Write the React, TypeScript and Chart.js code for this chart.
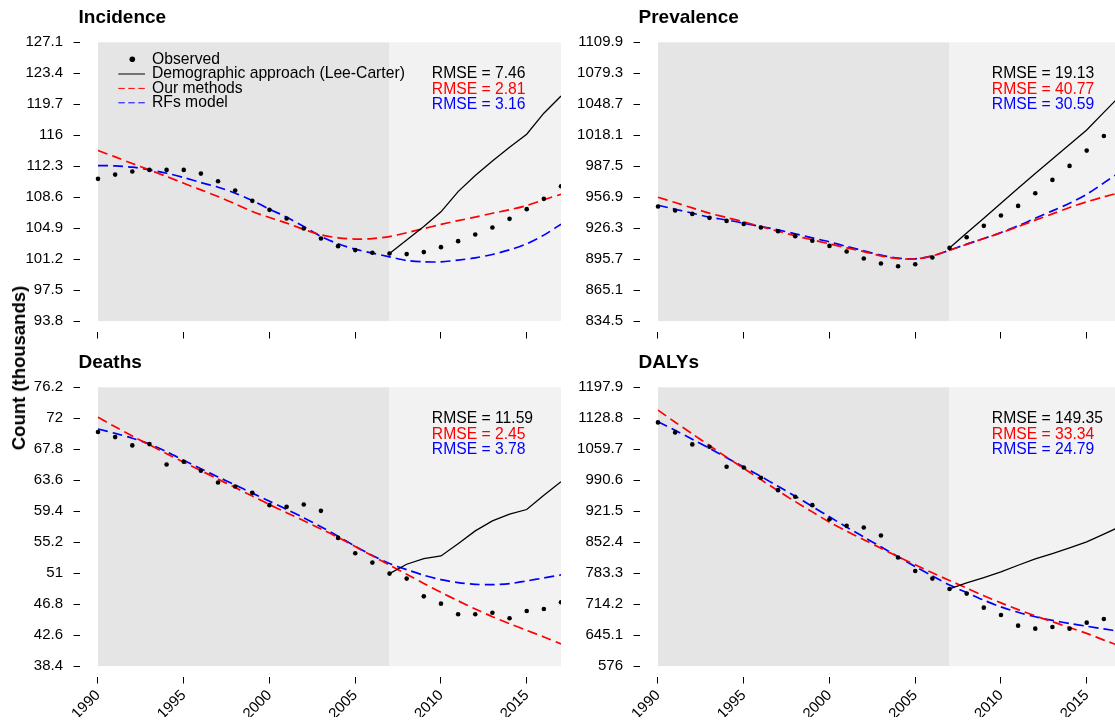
import React, { useEffect, useRef } from 'react';
import { Chart, registerables } from 'chart.js';

Chart.register(...registerables);

const FONT = "'Liberation Sans', Arial, Helvetica, sans-serif";

// ---------------- data ----------------
const YEARS = [1990, 1991, 1992, 1993, 1994, 1995, 1996, 1997, 1998, 1999, 2000, 2001, 2002, 2003, 2004, 2005, 2006, 2007, 2008, 2009, 2010, 2011, 2012, 2013, 2014, 2015, 2016, 2017];
const LC_YEARS = [2007, 2008, 2009, 2010, 2011, 2012, 2013, 2014, 2015, 2016, 2017];
const X_TICKS = [1990, 1995, 2000, 2005, 2010, 2015];
const SERIES_LABELS = ['Observed', 'Demographic approach (Lee-Carter)', 'Our methods', 'RFs model'];

// Incidence
const INC_TICKS = [93.8, 97.5, 101.2, 104.9, 108.6, 112.3, 116, 119.7, 123.4, 127.1];
const INC_OBS = [110.79, 111.3, 111.66, 111.86, 111.86, 111.86, 111.42, 110.51, 109.4, 108.16, 107.09, 106.05, 104.86, 103.67, 102.75, 102.28, 101.96, 101.88, 101.8, 102.04, 102.63, 103.35, 104.14, 104.98, 106.01, 107.17, 108.4, 109.91];
const INC_LC = [101.88, 103.5, 105.1, 106.85, 109.27, 111.18, 112.93, 114.57, 116.12, 118.63, 120.69];
const INC_OURS = [114.17, 113.41, 112.62, 111.86, 111.07, 110.27, 109.47, 108.68, 107.8, 106.89, 106.17, 105.5, 104.75, 104.1, 103.75, 103.6, 103.65, 103.9, 104.35, 104.85, 105.35, 105.8, 106.22, 106.68, 107.1, 107.6, 108.3, 108.95];
const INC_RF = [112.38, 112.34, 112.18, 111.86, 111.46, 110.95, 110.35, 109.79, 109.08, 108.2, 107.17, 106.21, 105.1, 103.91, 103.03, 102.39, 101.92, 101.48, 101.04, 100.88, 100.88, 101.08, 101.36, 101.76, 102.31, 103.03, 104.07, 105.38];
const INC_RMSE = ['RMSE = 7.46', 'RMSE = 2.81', 'RMSE = 3.16'];

// Prevalence
const PREV_TICKS = [834.5, 865.1, 895.7, 926.3, 956.9, 987.5, 1018.1, 1048.7, 1079.3, 1109.9];
const PREV_OBS = [947.65, 943.7, 940.4, 936.5, 933.5, 930.5, 926.9, 923.3, 918.4, 913.8, 908.8, 903.2, 896.3, 891.4, 888.7, 890.7, 897.3, 906.8, 917.4, 928.6, 938.8, 948.3, 960.8, 974.0, 987.8, 1002.9, 1017.4, 1032.0];
const PREV_LC = [906.8, 921.5, 936.2, 951.0, 965.8, 980.2, 994.6, 1009.0, 1023.3, 1040.7, 1058.0];
const PREV_OURS = [956.9, 951.6, 946.3, 941.1, 936.8, 932.5, 927.9, 923.3, 918.7, 914.8, 910.8, 906.9, 903.2, 898.9, 896.3, 895.9, 899.0, 904.5, 910.3, 916.1, 921.7, 927.9, 934.2, 940.4, 946.7, 952.3, 957.2, 961.8];
const PREV_RF = [948.97, 945.0, 941.1, 937.1, 934.5, 931.2, 927.9, 924.6, 920.7, 916.7, 912.8, 908.2, 903.9, 899.6, 896.7, 896.0, 898.9, 904.5, 910.5, 916.1, 922.0, 928.6, 936.1, 943.4, 950.9, 959.8, 971.0, 982.5];
const PREV_RMSE = ['RMSE = 19.13', 'RMSE = 40.77', 'RMSE = 30.59'];

// Deaths
const DEA_TICKS = [38.4, 42.6, 46.8, 51, 55.2, 59.4, 63.6, 67.8, 72, 76.2];
const DEA_OBS = [70.13, 69.45, 68.32, 68.5, 65.74, 66.1, 64.88, 63.3, 62.75, 61.89, 60.22, 59.99, 60.31, 59.45, 55.78, 53.7, 52.43, 50.94, 50.26, 47.86, 46.87, 45.42, 45.42, 45.64, 44.88, 45.87, 46.14, 47.05];
const DEA_LC = [50.94, 52.21, 52.98, 53.34, 55.0, 56.73, 58.09, 58.99, 59.63, 61.58, 63.39];
const DEA_OURS = [72.13, 70.85, 69.6, 68.4, 67.2, 66.05, 64.9, 63.75, 62.6, 61.45, 60.3, 59.2, 58.1, 57.0, 55.85, 54.6, 53.35, 52.1, 50.85, 49.6, 48.4, 47.25, 46.15, 45.1, 44.15, 43.25, 42.35, 41.4];
const DEA_RF = [70.54, 69.95, 69.3, 68.5, 67.45, 66.3, 65.15, 64.05, 62.95, 61.85, 60.75, 59.65, 58.5, 57.3, 56.0, 54.65, 53.4, 52.3, 51.48, 50.72, 50.13, 49.72, 49.49, 49.45, 49.58, 49.95, 50.35, 50.76];
const DEA_RMSE = ['RMSE = 11.59', 'RMSE = 2.45', 'RMSE = 3.78'];

// DALYs
const DALY_TICKS = [576, 645.1, 714.2, 783.3, 852.4, 921.5, 990.6, 1059.7, 1128.8, 1197.9];
const DALY_OBS = [1119.6, 1097.3, 1070.5, 1065.3, 1020.6, 1019.1, 996.0, 968.5, 953.6, 935.0, 903.7, 888.8, 885.1, 867.2, 818.1, 788.3, 771.2, 748.1, 737.7, 706.4, 690.0, 666.2, 659.5, 663.2, 659.5, 672.9, 681.1, 688.0];
const DALY_LC = [748.1, 761.5, 773.4, 786.05, 801.0, 815.1, 827.0, 839.7, 853.1, 870.2, 888.1];
const DALY_OURS = [1147, 1120, 1094, 1068, 1042, 1017, 992, 967, 943, 920, 897, 877, 858, 839, 820, 802, 784, 767, 750, 733, 717, 702, 688, 675, 662, 649, 634, 620];
const DALY_RF = [1121, 1102, 1082, 1062, 1041, 1020, 999, 977, 955, 932, 909, 886, 864, 842, 820, 798, 777, 757, 740, 723, 708, 696, 686, 678, 671, 665, 659, 653];
const DALY_RMSE = ['RMSE = 149.35', 'RMSE = 33.34', 'RMSE = 24.79'];

// ---------------- layout / style ----------------
const CANVAS_W = 575;
const CANVAS_H = 379;
const AREA_TOP = 42.3;
const Y_AXIS_W = 79.5;
const AREA_RIGHT = 561;
const AREA_BOTTOM = 332;
const X_AXIS_H = 40;
const PLOT_BOTTOM = 321.1;
const X_START_PX = 98;
const X_FIRST = 1990;
const X_SPLIT = 2007;
const X_LAST = 2017;

const COL_OBS = '#000000';
const COL_LC = '#000000';
const COL_OURS = '#FF0000';
const COL_RF = '#0000FF';
const RMSE_COLORS = [COL_LC, COL_OURS, COL_RF];

type Panel = {
  title: string;
  ticks: number[];
  obs: number[];
  lc: number[];
  ours: number[];
  rf: number[];
  rmse: string[];
  xLabels: boolean;
  legend: boolean;
  left: number;
  top: number;
};

const PANELS: Panel[] = [
  { title: 'Incidence', ticks: INC_TICKS, obs: INC_OBS, lc: INC_LC, ours: INC_OURS, rf: INC_RF, rmse: INC_RMSE, xLabels: false, legend: true, left: 0, top: 0 },
  { title: 'Prevalence', ticks: PREV_TICKS, obs: PREV_OBS, lc: PREV_LC, ours: PREV_OURS, rf: PREV_RF, rmse: PREV_RMSE, xLabels: false, legend: false, left: 560, top: 0 },
  { title: 'Deaths', ticks: DEA_TICKS, obs: DEA_OBS, lc: DEA_LC, ours: DEA_OURS, rf: DEA_RF, rmse: DEA_RMSE, xLabels: true, legend: false, left: 0, top: 345 },
  { title: 'DALYs', ticks: DALY_TICKS, obs: DALY_OBS, lc: DALY_LC, ours: DALY_OURS, rf: DALY_RF, rmse: DALY_RMSE, xLabels: true, legend: false, left: 560, top: 345 },
];

const pts = (xs: number[], ys: number[]) => xs.map((x, i) => ({ x, y: ys[i] }));

function PanelChart({ panel }: { panel: Panel }) {
  const ref = useRef<HTMLCanvasElement | null>(null);

  useEffect(() => {
    if (!ref.current) return;
    const tickBot = panel.ticks[0];
    const tickTop = panel.ticks[panel.ticks.length - 1];
    const pxPerUnit = (PLOT_BOTTOM - AREA_TOP) / (tickTop - tickBot);
    const yMin = tickBot - (AREA_BOTTOM - PLOT_BOTTOM) / pxPerUnit;
    const pxPerYear = (AREA_RIGHT - X_START_PX) / (X_LAST - X_FIRST);
    const xMin = X_FIRST - (X_START_PX - Y_AXIS_W) / pxPerYear;

    const bandPlugin = {
      id: 'bands',
      beforeDatasetsDraw(chart: any) {
        const { ctx, scales } = chart;
        const x = scales.x;
        const y = scales.y;
        const yT = y.getPixelForValue(tickTop);
        const yB = y.getPixelForValue(tickBot);
        const x0 = x.getPixelForValue(X_FIRST);
        const x1 = x.getPixelForValue(X_SPLIT);
        const x2 = x.getPixelForValue(X_LAST);
        ctx.save();
        ctx.fillStyle = '#E5E5E5';
        ctx.fillRect(x0, yT, x1 - x0, yB - yT);
        ctx.fillStyle = '#F2F2F2';
        ctx.fillRect(x1, yT, x2 - x1, yB - yT);
        ctx.restore();
      },
    };

    const textPlugin = {
      id: 'panelText',
      afterDraw(chart: any) {
        const { ctx, chartArea } = chart;
        ctx.save();
        ctx.textBaseline = 'middle';
        ctx.textAlign = 'left';
        ctx.fillStyle = '#000';
        ctx.font = `bold 19px ${FONT}`;
        ctx.fillText(panel.title, 78.5, 17.3);
        ctx.font = `15.7px ${FONT}`;
        const rmseDy = [31.7, 47.1, 62.5];
        panel.rmse.forEach((t, i) => {
          ctx.fillStyle = RMSE_COLORS[i];
          ctx.fillText(t, 431.8, chartArea.top + rmseDy[i]);
        });
        if (panel.legend) {
          const ds = chart.data.datasets;
          const rows = [59.3, 74, 88.4, 102.8];
          ds.forEach((d: any, i: number) => {
            const yy = rows[i];
            if (i === 0) {
              ctx.fillStyle = d.pointBackgroundColor;
              ctx.beginPath();
              ctx.arc(132.3, yy, 2.8, 0, Math.PI * 2);
              ctx.fill();
            } else {
              ctx.strokeStyle = d.borderColor;
              ctx.lineWidth = 1;
              ctx.setLineDash(d.borderDash && d.borderDash.length ? [6.5, 3.5] : []);
              ctx.beginPath();
              ctx.moveTo(118.3, yy);
              ctx.lineTo(145, yy);
              ctx.stroke();
              ctx.setLineDash([]);
            }
            ctx.fillStyle = '#000';
            ctx.fillText(d.label, 152, yy);
          });
        }
        ctx.restore();
      },
    };

    const chart = new Chart(ref.current, {
      type: 'line',
      data: {
        datasets: [
          {
            label: SERIES_LABELS[0],
            data: pts(YEARS, panel.obs),
            showLine: false,
            pointRadius: 2.3,
            pointBorderWidth: 0,
            pointBackgroundColor: COL_OBS,
            borderColor: COL_OBS,
            order: 0,
          },
          {
            label: SERIES_LABELS[1],
            data: pts(LC_YEARS, panel.lc),
            borderColor: COL_LC,
            borderWidth: 1.3,
            pointRadius: 0,
            tension: 0,
            order: 1,
          },
          {
            label: SERIES_LABELS[2],
            data: pts(YEARS, panel.ours),
            borderColor: COL_OURS,
            borderWidth: 1.7,
            borderDash: [10, 5],
            pointRadius: 0,
            tension: 0.3,
            order: 2,
          },
          {
            label: SERIES_LABELS[3],
            data: pts(YEARS, panel.rf),
            borderColor: COL_RF,
            borderWidth: 1.7,
            borderDash: [10, 5],
            pointRadius: 0,
            tension: 0.3,
            order: 3,
          },
        ] as any,
      },
      options: {
        animation: false,
        responsive: false,
        events: [],
        layout: { padding: { top: AREA_TOP, left: 0, right: CANVAS_W - AREA_RIGHT, bottom: CANVAS_H - AREA_BOTTOM - X_AXIS_H } },
        plugins: { legend: { display: false }, tooltip: { enabled: false }, title: { display: false } },
        scales: {
          x: {
            type: 'linear',
            min: xMin,
            max: X_LAST,
            afterBuildTicks: (axis: any) => {
              axis.ticks = X_TICKS.map((v) => ({ value: v }));
            },
            afterFit: (axis: any) => {
              axis.height = X_AXIS_H;
            },
            border: { display: false },
            grid: { drawOnChartArea: false, drawTicks: true, tickLength: 6.5, color: '#000', lineWidth: 1 },
            ticks: {
              autoSkip: false,
              minRotation: 45,
              maxRotation: 45,
              padding: 3,
              color: panel.xLabels ? '#000' : 'rgba(0,0,0,0)',
              font: { family: FONT, size: 15 },
              callback: (v: any) => String(v),
            },
          },
          y: {
            type: 'linear',
            min: yMin,
            max: tickTop,
            afterBuildTicks: (axis: any) => {
              axis.ticks = panel.ticks.map((v) => ({ value: v }));
            },
            afterFit: (axis: any) => {
              axis.width = Y_AXIS_W;
            },
            border: { display: false },
            grid: { drawOnChartArea: false, drawTicks: true, tickLength: 6, color: '#000', lineWidth: 1 },
            ticks: {
              autoSkip: false,
              padding: 10.5,
              color: '#000',
              font: { family: FONT, size: 15 },
              callback: (v: any) => String(v),
            },
          },
        },
      } as any,
      plugins: [bandPlugin, textPlugin],
    });
    return () => chart.destroy();
  }, [panel]);

  return (
    <canvas
      ref={ref}
      width={CANVAS_W}
      height={CANVAS_H}
      style={{ position: 'absolute', left: panel.left, top: panel.top, width: CANVAS_W, height: CANVAS_H }}
    />
  );
}

export default function App() {
  return (
    <div style={{ position: 'absolute', left: 0, top: 0, width: 1115, height: 724, overflow: 'hidden', background: '#fff' }}>
      {PANELS.map((p, i) => (
        <PanelChart key={i} panel={p} />
      ))}
      <div
        style={{
          position: 'absolute',
          left: 19,
          top: 368,
          transform: 'translate(-50%, -50%) rotate(-90deg)',
          font: `bold 18.5px ${FONT}`,
          whiteSpace: 'nowrap',
          color: '#000',
        }}
      >
        Count (thousands)
      </div>
    </div>
  );
}
